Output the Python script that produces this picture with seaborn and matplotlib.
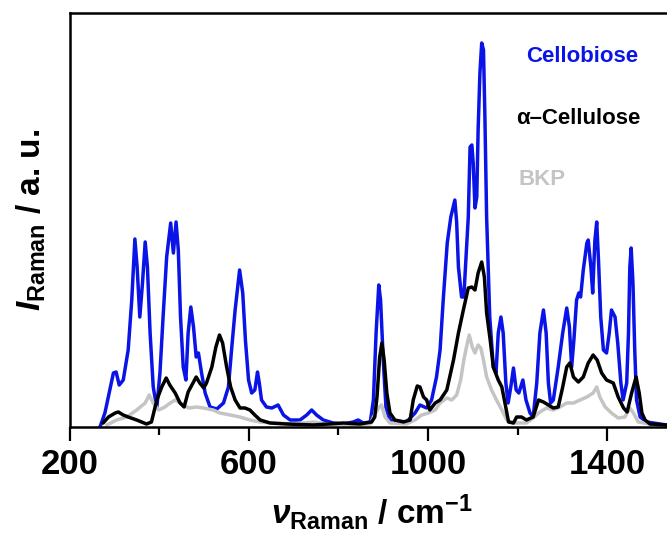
import matplotlib
matplotlib.use("Agg")
import matplotlib.pyplot as plt
import seaborn as sns
import pandas as pd
from matplotlib.ticker import FixedLocator

# ---------------- data ----------------
cello_x = [267, 278, 297, 303, 310, 319, 330, 338, 345, 350, 356, 362, 368, 373, 379, 386, 394, 401, 408, 416,
           425, 431, 437, 442, 447, 453, 459, 464, 470, 476, 482, 487, 494, 502, 513, 528, 543, 554, 561, 569,
           579, 586, 592, 599, 606, 613, 619, 623, 628, 639, 651, 665, 677, 692, 714, 729, 740, 751, 766, 788,
           811, 833, 844, 855, 871, 878, 884, 890, 894, 900, 906, 915, 952, 971, 982, 997, 1008, 1019, 1027, 1034,
           1043, 1051, 1060, 1064, 1068, 1075, 1080, 1086, 1090, 1094, 1098, 1101, 1105, 1109, 1112, 1116, 1120, 1124, 1127, 1131,
           1138, 1146, 1152, 1157, 1163, 1168, 1174, 1179, 1185, 1191, 1197, 1203, 1212, 1219, 1228, 1235, 1243, 1250, 1258, 1264,
           1269, 1274, 1280, 1291, 1301, 1310, 1316, 1321, 1326, 1332, 1337, 1341, 1347, 1355, 1358, 1364, 1368, 1373, 1377, 1381,
           1386, 1392, 1399, 1405, 1410, 1418, 1424, 1431, 1436, 1444, 1448, 1451, 1454, 1458, 1462, 1466, 1474, 1489, 1533]
cello_y = [0, 14, 54, 55, 42, 47, 77, 127, 188, 160, 110, 144, 185, 160, 94, 40, 19, 54, 110, 170,
           204, 174, 205, 177, 110, 60, 47, 94, 120, 100, 70, 74, 54, 34, 20, 18, 24, 40, 77, 117,
           157, 134, 87, 47, 34, 37, 55, 44, 27, 20, 19, 22, 12, 7, 7, 12, 17, 12, 7, 4,
           3, 5, 7, 4, 5, 27, 94, 142, 127, 67, 20, 7, 5, 14, 22, 19, 27, 50, 77, 127,
           184, 210, 227, 205, 160, 130, 130, 177, 210, 280, 282, 264, 219, 230, 297, 354, 384, 377, 314, 210,
           110, 60, 54, 94, 110, 94, 44, 24, 40, 59, 37, 34, 47, 27, 14, 10, 44, 94, 117, 94,
           44, 24, 27, 60, 94, 119, 100, 60, 87, 127, 134, 130, 157, 184, 187, 160, 134, 187, 205, 167,
           110, 77, 74, 94, 117, 110, 84, 44, 27, 44, 94, 160, 179, 144, 77, 27, 10, 5, 2]

cellu_x = [274, 286, 301, 308, 319, 330, 349, 371, 382, 394, 405, 415, 423, 435, 446, 455, 464, 476, 482, 490,
           499, 505, 517, 526, 534, 541, 550, 559, 569, 580, 591, 602, 613, 625, 647, 684, 744, 811, 848, 874,
           881, 886, 892, 897, 902, 908, 915, 926, 945, 960, 967, 976, 982, 990, 997, 1004, 1016, 1027, 1042, 1057,
           1068, 1079, 1090, 1098, 1105, 1112, 1120, 1126, 1131, 1139, 1146, 1157, 1165, 1172, 1180, 1191, 1198, 1209, 1220, 1235,
           1247, 1258, 1269, 1280, 1291, 1301, 1310, 1317, 1325, 1336, 1347, 1358, 1369, 1378, 1388, 1399, 1414, 1425, 1437, 1445,
           1455, 1465, 1472, 1478, 1485, 1496, 1533]
cellu_y = [4, 10, 14, 15, 12, 10, 7, 3, 5, 27, 40, 49, 42, 34, 24, 20, 35, 45, 50, 44,
           39, 44, 60, 80, 92, 84, 60, 40, 27, 19, 19, 17, 12, 7, 4, 3, 2, 4, 3, 5,
           10, 30, 70, 84, 67, 34, 14, 7, 5, 7, 27, 41, 40, 30, 27, 17, 24, 27, 37, 67,
           94, 117, 139, 140, 137, 154, 165, 150, 114, 87, 60, 47, 40, 24, 5, 4, 10, 10, 7, 10,
           27, 25, 22, 19, 20, 40, 60, 64, 50, 45, 50, 64, 72, 67, 54, 47, 44, 30, 19, 15,
           34, 50, 34, 14, 7, 3, 2]

bkp_x = [282, 304, 327, 349, 368, 377, 386, 398, 412, 424, 435, 446, 465, 483, 498, 520, 535, 558, 580, 602,
         625, 654, 699, 744, 774, 826, 871, 878, 891, 896, 904, 915, 952, 971, 986, 1001, 1016, 1027, 1042, 1053,
         1064, 1073, 1080, 1086, 1092, 1099, 1105, 1112, 1118, 1124, 1131, 1142, 1153, 1165, 1176, 1191, 1220, 1235, 1250, 1265,
         1280, 1295, 1310, 1325, 1340, 1355, 1369, 1377, 1384, 1396, 1410, 1425, 1440, 1451, 1459, 1470, 1496]
bkp_y = [2, 7, 10, 17, 24, 32, 24, 17, 20, 24, 27, 24, 19, 20, 19, 17, 14, 12, 10, 7,
         5, 4, 3, 5, 3, 2, 3, 10, 20, 22, 10, 4, 3, 7, 12, 14, 17, 24, 29, 27,
         32, 47, 67, 80, 92, 80, 74, 82, 79, 67, 50, 37, 27, 17, 7, 4, 4, 9, 15, 19,
         17, 20, 24, 24, 27, 30, 34, 40, 30, 20, 14, 9, 10, 19, 14, 5, 3]

labels = ["Cellobiose", "\u03b1\u2013Cellulose", "BKP"]
colors = ["#0a14e6", "#000000", "#c4c4c4"]
xticks_major = [200, 600, 1000, 1400]
xticks_minor = [400, 800, 1200]

# ---------------- figure ----------------
sns.set_style("white")
plt.rcParams["font.family"] = ["Liberation Sans", "DejaVu Sans"]
plt.rcParams["mathtext.fontset"] = "custom"
plt.rcParams["mathtext.rm"] = "Liberation Sans:bold"
plt.rcParams["mathtext.bf"] = "Liberation Sans:bold"
plt.rcParams["mathtext.it"] = "Liberation Sans:bold:italic"
plt.rcParams["text.color"] = "black"
plt.rcParams["axes.labelcolor"] = "black"
plt.rcParams["xtick.color"] = "black"

fig = plt.figure(figsize=(6.67, 5.46), dpi=100)
x0 = 70 / 667
ax = fig.add_axes([x0, 119 / 546, (1550 - 200) * 0.4475 / 667, 414 / 546])

df_b = pd.DataFrame({"x": cello_x, "y": cello_y})
df_k = pd.DataFrame({"x": cellu_x, "y": cellu_y})
df_g = pd.DataFrame({"x": bkp_x, "y": bkp_y})

lw = 2.5
sns.lineplot(data=df_b, x="x", y="y", ax=ax, color=colors[0], lw=lw, estimator=None, sort=False)
sns.lineplot(data=df_g, x="x", y="y", ax=ax, color=colors[2], lw=lw, estimator=None, sort=False)
sns.lineplot(data=df_k, x="x", y="y", ax=ax, color=colors[1], lw=lw, estimator=None, sort=False)

ax.set_xlim(200, 1550)
ax.set_ylim(0, 414)
ax.set_yticks([])
ax.xaxis.set_major_locator(FixedLocator(xticks_major))
ax.xaxis.set_minor_locator(FixedLocator(xticks_minor))
ax.tick_params(axis="x", which="major", direction="out", length=10, width=1.6,
               labelsize=25, pad=5, bottom=True, labelcolor="black")
ax.tick_params(axis="x", which="minor", direction="out", length=6, width=1.6, bottom=True)
for lab in ax.get_xticklabels():
    lab.set_fontweight("bold")
for s in ["left", "bottom", "top", "right"]:
    ax.spines[s].set_linewidth(1.8)
    ax.spines[s].set_color("black")

ax.set_xlabel(r"$\nu_{\mathrm{Raman}}$ / cm$^{\mathrm{-1}}$", fontsize=24, fontweight="bold", labelpad=8)
ax.set_ylabel(r"$I_{\mathrm{Raman}}$ / a. u.", fontsize=24, fontweight="bold", labelpad=16)

xpos = [0.755, 0.738, 0.742]
ypos = [0.895, 0.745, 0.598]
for lab, col, xx, yy in zip(labels, colors, xpos, ypos):
    ax.text(xx, yy, lab, transform=ax.transAxes, color=col, fontsize=16,
            fontweight="bold", ha="left", va="center")

fig.savefig("out.png", dpi=100)
